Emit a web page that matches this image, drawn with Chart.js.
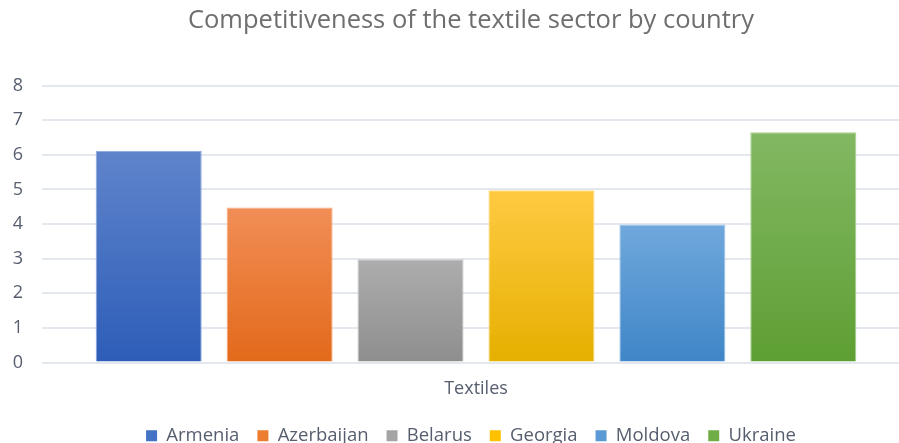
<!DOCTYPE html>
<html>
<head>
<meta charset="utf-8">
<title>Competitiveness of the textile sector by country</title>
<script src="https://cdn.jsdelivr.net/npm/chart.js@4"></script>
<style>
    html, body { margin: 0; padding: 0; background: #fff; overflow: hidden; }
    #chart { display: block; }
</style>
</head>
<body>
<canvas id="chart" width="942" height="455"></canvas>
<script>
// Data
const sectors = ['Textiles'];
const countries = ['Armenia', 'Azerbaijan', 'Belarus', 'Georgia', 'Moldova', 'Ukraine'];
const scores = [6.12, 4.48, 2.98, 4.98, 3.99, 6.65];
const yTicks = [0, 1, 2, 3, 4, 5, 6, 7, 8];

// Bar colours: light top, dark bottom, legend swatch
const topColors = ['#5f84cb', '#f18e56', '#adadad', '#ffca42', '#70a8dc', '#82b863'];
const bottomColors = ['#2d5db8', '#e3691a', '#8e8e8e', '#e5b000', '#3f86c7', '#5e9f33'];
const swatchColors = ['#4472c4', '#ed7d31', '#a5a5a5', '#ffc000', '#5b9bd5', '#70ad47'];
const edgeColors = ['#8ba6dc', '#f5ab80', '#c6c6c6', '#ffd97a', '#9ec4e8', '#a6cf8d'];

const TEXT = '#565e6e';

function barGradient(ctx, i) {
    const chart = ctx.chart;
    const area = chart.chartArea;
    if (!area) return swatchColors[i];
    const yScale = chart.scales.y;
    const top = yScale.getPixelForValue(scores[i]);
    const g = chart.ctx.createLinearGradient(0, top, 0, area.bottom);
    g.addColorStop(0, topColors[i]);
    g.addColorStop(1, bottomColors[i]);
    return g;
}

const datasets = countries.map((name, i) => ({
    label: name,
    data: [scores[i]],
    backgroundColor: ctx => barGradient(ctx, i),
    borderColor: edgeColors[i],
    borderWidth: 1,
    barPercentage: 0.81,
    categoryPercentage: 0.905
}));

new Chart(document.getElementById('chart'), {
    type: 'bar',
    data: { labels: sectors, datasets: datasets },
    options: {
        responsive: false,
        animation: false,
        layout: { padding: 0 },
        scales: {
            x: {
                grid: { display: false, drawTicks: false },
                border: { display: false },
                ticks: {
                    color: TEXT,
                    padding: 16,
                    font: { family: 'Open Sans', size: 18 }
                },
                afterFit: scale => { scale.height = 46; }
            },
            y: {
                min: 0,
                max: 8,
                afterBuildTicks: axis => { axis.ticks = yTicks.map(v => ({ value: v })); },
                grid: { color: '#e3e7ee', lineWidth: 2, drawTicks: false },
                border: { display: false },
                ticks: {
                    color: TEXT,
                    padding: 19,
                    font: { family: 'Open Sans', size: 18 }
                },
                afterFit: scale => { scale.width = 42; }
            },
            // empty right-hand band, keeps the plot off the right edge
            spacer: {
                type: 'linear',
                position: 'right',
                grid: { display: false, drawTicks: false },
                border: { display: false },
                ticks: { display: false },
                afterFit: scale => { scale.width = 32; }
            }
        },
        plugins: {
            title: {
                display: true,
                text: 'Competitiveness of the textile sector by country',
                color: '#6e6e6e',
                font: { family: 'Open Sans', size: 25.5, weight: 'normal' },
                padding: { top: 5, bottom: 50 }
            },
            legend: {
                position: 'bottom',
                labels: {
                    color: TEXT,
                    boxWidth: 11,
                    boxHeight: 11,
                    padding: 18,
                    font: { family: 'Open Sans', size: 18.5 },
                    generateLabels: () => countries.map((name, i) => ({
                        text: name,
                        fillStyle: swatchColors[i],
                        strokeStyle: swatchColors[i],
                        lineWidth: 0,
                        fontColor: TEXT,
                        datasetIndex: i
                    }))
                }
            },
            tooltip: { enabled: false }
        }
    }
});
</script>
</body>
</html>
